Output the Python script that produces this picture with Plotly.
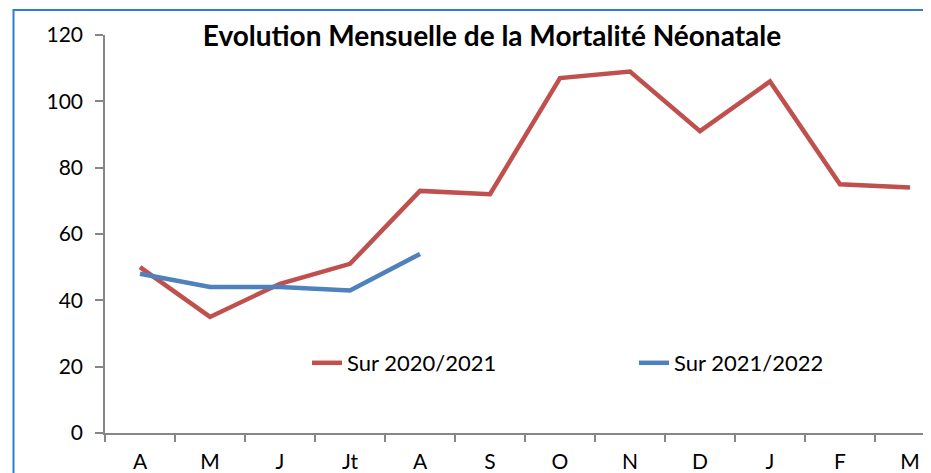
import plotly.graph_objects as go

months = ["A", "M", "J", "Jt", "A", "S", "O", "N", "D", "J", "F", "M"]
serie_2020_2021 = [50, 35, 45, 51, 73, 72, 107, 109, 91, 106, 75, 74]
serie_2021_2022 = [48, 44, 44, 43, 54]
y_ticks = [0, 20, 40, 60, 80, 100, 120]

FONT = "Lato"
x_idx = list(range(len(months)))

fig = go.Figure()
fig.add_trace(go.Scatter(
    x=x_idx, y=serie_2020_2021, mode="lines", name="Sur 2020/2021",
    line=dict(color="#C0504D", width=4.5)))
fig.add_trace(go.Scatter(
    x=x_idx[:len(serie_2021_2022)], y=serie_2021_2022, mode="lines", name="Sur 2021/2022",
    line=dict(color="#4F81BD", width=4.5)))

# page body has an 8px offset
OFF = 8
W, H = 931, 473
L, R, T, B = 105 - OFF, 0, 35 - OFF, H - (433 - OFF)
pw = W - L - R
ph = H - T - B

fig.update_layout(
    width=W, height=H,
    margin=dict(l=L, r=R, t=T, b=B, autoexpand=False),
    paper_bgcolor="white", plot_bgcolor="white",
    font=dict(family=FONT, color="black", size=21),
    title=dict(text="<b>Evolution Mensuelle de la Mortalité Néonatale</b>",
               x=(492 - OFF) / W, xanchor="center", y=1 - (36 - OFF) / H, yanchor="middle",
               font=dict(family=FONT, size=28, color="black")),
    showlegend=True,
    legend=dict(orientation="h", x=(307 - 105) / pw, y=(433 - 363) / ph,
                xanchor="left", yanchor="middle", bgcolor="rgba(0,0,0,0)",
                entrywidth=282, entrywidthmode="pixels",
                font=dict(family=FONT, size=22, color="black")),
    shapes=[dict(type="rect", xref="paper", yref="paper",
                 x0=(13.5 - 105) / pw, x1=1.4, y0=-0.6, y1=(433 - 10) / ph,
                 line=dict(color="#2E7BCF", width=2), fillcolor="rgba(0,0,0,0)",
                 layer="below")],
)

fig.update_xaxes(
    range=[-0.5, -0.5 + pw / 70.0], tickvals=x_idx, ticktext=months, ticks="",
    showgrid=False, zeroline=False, showline=True, linecolor="#868686", linewidth=1.5,
    tickfont=dict(family=FONT, size=21, color="black"), automargin=False,
    ticklabelstandoff=9,
    minor=dict(tickvals=[i - 0.5 for i in range(len(months) + 1)], ticks="outside",
               ticklen=7, tickcolor="#868686", tickwidth=1.5, showgrid=False),
)
fig.update_yaxes(
    range=[0, 120], tickvals=y_ticks, ticks="outside", ticklen=8,
    tickcolor="#868686", tickwidth=1.5, automargin=False, ticklabelstandoff=8,
    showgrid=False, zeroline=False, showline=True, linecolor="#868686", linewidth=1.5,
    tickfont=dict(family=FONT, size=21, color="black"),
)

fig.write_html("out.html")
